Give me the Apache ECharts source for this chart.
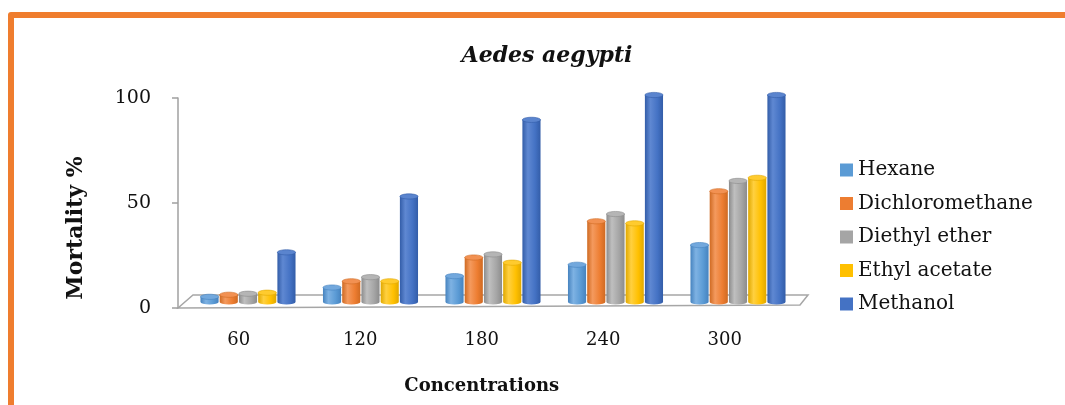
<!DOCTYPE html>
<html>
<head>
<meta charset="utf-8">
<script src="https://cdn.jsdelivr.net/npm/echarts@6/dist/echarts.min.js"></script>
<style>
  html, body { margin: 0; padding: 0; background: #ffffff; }
  #chart { width: 1065px; height: 405px; }
</style>
</head>
<body>
<div id="chart"></div>
<script>
// Mortality (%) of Aedes aegypti larvae per solvent extract and concentration
const concentrations = ['60', '120', '180', '240', '300'];
const hexane          = [2.5, 7, 12.5, 18, 27.5];
const dichloromethane = [3.5, 10, 21.5, 39, 53.5];
const diethylEther    = [4, 12, 23, 42.5, 58.5];
const ethylAcetate    = [4.5, 10, 19, 38, 60];
const methanol        = [24, 51, 88, 100, 100];

const seriesNames  = ['Hexane', 'Dichloromethane', 'Diethyl ether', 'Ethyl acetate', 'Methanol'];
const seriesValues = [hexane, dichloromethane, diethylEther, ethylAcetate, methanol];

const yMax = 100;
const yStep = 50;

// Cylinder shading per series: edge, highlight, body and cap tones
const palette = [
  { base: '#5B9BD5', dark: '#4683BF', light: '#7EB2E3', cap: '#72A8DD' },
  { base: '#ED7D31', dark: '#CF6A22', light: '#F49A5E', cap: '#F29152' },
  { base: '#A5A5A5', dark: '#8C8C8C', light: '#BFBFBF', cap: '#B5B5B5' },
  { base: '#FFC000', dark: '#E0A800', light: '#FFD040', cap: '#FFCB2E' },
  { base: '#4472C4', dark: '#335DA8', light: '#5F88D2', cap: '#5A84CE' }
];

const serif = '"DejaVu Serif", "Liberation Serif", serif';

function cylinder(idx) {
  return function (params, api) {
    const cat = api.value(0);
    const val = api.value(1);
    const top = api.coord([cat, val]);
    const base = api.coord([cat, 0]);
    const band = api.size([1, 0])[0];
    const step = band * 0.157;
    const w = band * 0.148;
    const cx = top[0] + (idx - 2) * step;
    const rx = w / 2, ry = 2.6;
    const x0 = cx - rx, x1 = cx + rx;
    const c = palette[idx];
    const grad = new echarts.graphic.LinearGradient(0, 0, 1, 0, [
      { offset: 0, color: c.dark },
      { offset: 0.3, color: c.light },
      { offset: 0.7, color: c.base },
      { offset: 1, color: c.dark }
    ]);
    return {
      type: 'group',
      children: [
        {
          type: 'path',
          shape: {
            pathData: 'M' + x0 + ' ' + top[1] + ' L' + x0 + ' ' + base[1] +
              ' A' + rx + ' ' + ry + ' 0 0 0 ' + x1 + ' ' + base[1] +
              ' L' + x1 + ' ' + top[1] + ' Z'
          },
          style: { fill: grad }
        },
        {
          type: 'ellipse',
          shape: { cx: cx, cy: top[1], rx: rx, ry: ry },
          style: { fill: c.cap, stroke: c.dark, lineWidth: 0.6 }
        }
      ]
    };
  };
}

const chart = echarts.init(document.getElementById('chart'), null, { renderer: 'canvas' });

chart.setOption({
  animation: false,
  backgroundColor: '#ffffff',
  title: {
    text: 'Aedes aegypti',
    left: 542,
    textAlign: 'center',
    top: 40,
    textStyle: { fontFamily: serif, fontStyle: 'italic', fontWeight: 'bold', fontSize: 22, color: '#111' }
  },
  legend: {
    orient: 'vertical',
    left: 835,
    top: 155,
    itemWidth: 13,
    itemHeight: 13,
    itemGap: 13.5,
    icon: 'rect',
    data: seriesNames,
    textStyle: { fontFamily: serif, fontSize: 20, lineHeight: 20, color: '#111' }
  },
  grid: [
    // axis frame (ticks and category labels)
    { left: 178, right: 279.5, top: 98, bottom: 97 },
    // plotting area for the cylinders
    { left: 186.75, right: 265.75, top: 95, bottom: 103 }
  ],
  xAxis: [
    {
      type: 'category',
      gridIndex: 0,
      data: concentrations,
      axisLine: { show: false },
      axisTick: { show: false },
      axisLabel: { margin: 23, fontFamily: serif, fontSize: 18, color: '#111' },
      name: 'Concentrations',
      nameLocation: 'middle',
      nameGap: 69,
      nameTextStyle: { fontFamily: serif, fontWeight: 'bold', fontSize: 18, color: '#111' }
    },
    {
      type: 'category',
      gridIndex: 1,
      data: concentrations,
      show: false
    }
  ],
  yAxis: [
    {
      type: 'value',
      gridIndex: 0,
      min: 0,
      max: yMax,
      interval: yStep,
      axisLine: { show: true, lineStyle: { color: '#A0A0A0', width: 1.5 } },
      axisTick: { show: true, length: 6, lineStyle: { color: '#A0A0A0', width: 1.5 } },
      splitLine: { show: false },
      axisLabel: { margin: 27, fontFamily: serif, fontSize: 19, color: '#111' }
    },
    {
      type: 'value',
      gridIndex: 1,
      min: 0,
      max: yMax,
      show: false
    }
  ],
  graphic: [
    {
      type: 'polyline',
      z: 0,
      shape: { points: [[11, 405], [11, 15], [1065, 15]] },
      style: { stroke: '#EF7D2E', lineWidth: 6, lineJoin: 'round', fill: null }
    },
    {
      type: 'polygon',
      z: 0,
      shape: { points: [[178, 308], [193, 295], [808, 295], [800, 305]] },
      style: { fill: '#ffffff', stroke: '#A6A6A6', lineWidth: 1.5 }
    },
    {
      type: 'text',
      x: 76,
      y: 228,
      rotation: Math.PI / 2,
      style: {
        text: 'Mortality %',
        font: 'bold 22px ' + serif,
        fill: '#111',
        align: 'center',
        verticalAlign: 'middle'
      }
    }
  ],
  series: seriesNames.map(function (name, idx) {
    return {
      name: name,
      type: 'custom',
      xAxisIndex: 1,
      yAxisIndex: 1,
      clip: false,
      z: 5,
      itemStyle: { color: palette[idx].base },
      renderItem: cylinder(idx),
      encode: { x: 0, y: 1 },
      data: seriesValues[idx].map(function (v, i) { return [i, v]; })
    };
  })
});
</script>
</body>
</html>
